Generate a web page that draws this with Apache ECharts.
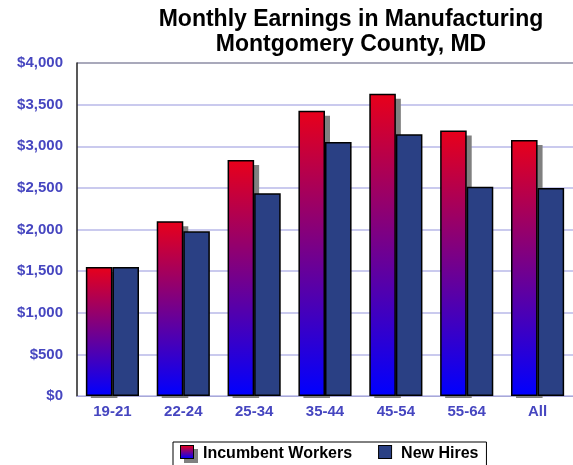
<!DOCTYPE html>
<html>
<head>
<meta charset="utf-8">
<script src="https://cdn.jsdelivr.net/npm/echarts@6/dist/echarts.min.js"></script>
<style>
  html, body { margin: 0; padding: 0; background: #fff; }
  #chart { width: 573px; height: 465px; }
</style>
</head>
<body>
<div id="chart"></div>
<script>
// 数据
var categories = ['19-21', '22-24', '25-34', '35-44', '45-54', '55-64', 'All']
var incumbentWorkers = [1550, 2100, 2835, 3425, 3630, 3190, 3075]
var newHires = [1550, 1980, 2435, 3050, 3145, 2515, 2500]
var yTicks = [0, 500, 1000, 1500, 2000, 2500, 3000, 3500, 4000]

var fontFamily = 'Arial, "Liberation Sans", sans-serif'
var labelColor = '#4646c0'
var barCategoryGap = 0.25 // 与 barCategoryGap 保持一致

var redBlue = new echarts.graphic.LinearGradient(0, 0, 0, 1, [
  { offset: 0, color: '#e8001a' },
  { offset: 1, color: '#0000ff' }
])

// 图例图标：渐变方块 + 灰色阴影
function svgIcon (body) {
  return 'image://data:image/svg+xml;charset=utf-8,' + encodeURIComponent(
    '<svg xmlns="http://www.w3.org/2000/svg" width="18" height="18">' + body + '</svg>'
  )
}
var incumbentIcon = svgIcon(
  '<defs><linearGradient id="g" x1="0" y1="0" x2="0" y2="1">' +
  '<stop offset="0" stop-color="#e8001a"/><stop offset="1" stop-color="#0000ff"/>' +
  '</linearGradient></defs>' +
  '<rect x="4" y="4" width="14" height="14" fill="#808080"/>' +
  '<rect x="0.5" y="0.5" width="13" height="13" fill="url(#g)" stroke="#000" stroke-width="1"/>'
)
var newHiresIcon = svgIcon(
  '<rect x="0.5" y="0.5" width="13" height="13" fill="#2a4084" stroke="#000" stroke-width="1"/>'
)

// 红色柱子的灰色阴影（自定义系列，避免描边阴影画进柱子里）
function renderShadow (params, api) {
  var top = api.coord([api.value(0), api.value(1)])
  var base = api.coord([api.value(0), 0])
  var band = api.size([1, 0])[0]
  var w = band * (1 - barCategoryGap) / 2
  return {
    type: 'rect',
    shape: {
      x: top[0] - w + 5,
      y: top[1] + 5,
      width: w,
      height: base[1] - top[1] - 3
    },
    style: { fill: '#808080' }
  }
}

var chart = echarts.init(document.getElementById('chart'))
chart.setOption({
  animation: false,
  title: {
    text: 'Monthly Earnings in Manufacturing\nMontgomery County, MD',
    left: 351,
    top: 7,
    padding: 0,
    textAlign: 'center',
    textStyle: {
      fontFamily: fontFamily,
      fontSize: 23,
      fontWeight: 'bold',
      lineHeight: 25,
      color: '#000'
    }
  },
  legend: {
    left: 173,
    top: 442,
    padding: [3, 8, 6, 7],
    borderColor: '#000',
    borderWidth: 1,
    itemWidth: 18,
    itemHeight: 18,
    itemGap: 26,
    textStyle: {
      fontFamily: fontFamily,
      fontSize: 16,
      fontWeight: 'bold',
      color: '#000'
    },
    data: [
      { name: 'Incumbent Workers', icon: incumbentIcon },
      { name: 'New Hires', icon: newHiresIcon }
    ]
  },
  grid: {
    left: 77,
    right: 0,
    top: 63,
    bottom: 69,
    containLabel: false
  },
  xAxis: {
    type: 'category',
    data: categories,
    axisLine: { lineStyle: { color: '#a8a8d8', width: 1 } },
    axisTick: { show: false },
    axisLabel: {
      margin: 8,
      fontFamily: fontFamily,
      fontSize: 15,
      fontWeight: 'bold',
      color: labelColor
    }
  },
  yAxis: {
    type: 'value',
    min: yTicks[0],
    max: yTicks[yTicks.length - 1],
    interval: 500,
    axisLine: { show: true, lineStyle: { color: '#222', width: 1.5 } },
    axisTick: { show: false },
    splitLine: {
      lineStyle: {
        color: ['#b8b8e8', '#b8b8e8', '#b8b8e8', '#b8b8e8', '#b8b8e8', '#b8b8e8', '#b8b8e8', '#b8b8e8', '#8c8ca4'],
        width: 1.5
      }
    },
    axisLabel: {
      margin: 14,
      fontFamily: fontFamily,
      fontSize: 15,
      fontWeight: 'bold',
      color: labelColor,
      formatter: function (v) {
        return '$' + v.toString().replace(/\B(?=(\d{3})+(?!\d))/g, ',')
      }
    }
  },
  series: [
    {
      name: 'shadow',
      type: 'custom',
      renderItem: renderShadow,
      encode: { x: 0, y: 1 },
      silent: true,
      data: incumbentWorkers.map(function (v, i) { return [i, v] })
    },
    {
      name: 'Incumbent Workers',
      type: 'bar',
      barGap: '0%',
      barCategoryGap: '25%',
      itemStyle: {
        color: redBlue,
        borderColor: '#000',
        borderWidth: 1.5
      },
      data: incumbentWorkers
    },
    {
      name: 'New Hires',
      type: 'bar',
      itemStyle: {
        color: '#2a4084',
        borderColor: '#000',
        borderWidth: 1.5
      },
      data: newHires
    }
  ]
})
</script>
</body>
</html>
